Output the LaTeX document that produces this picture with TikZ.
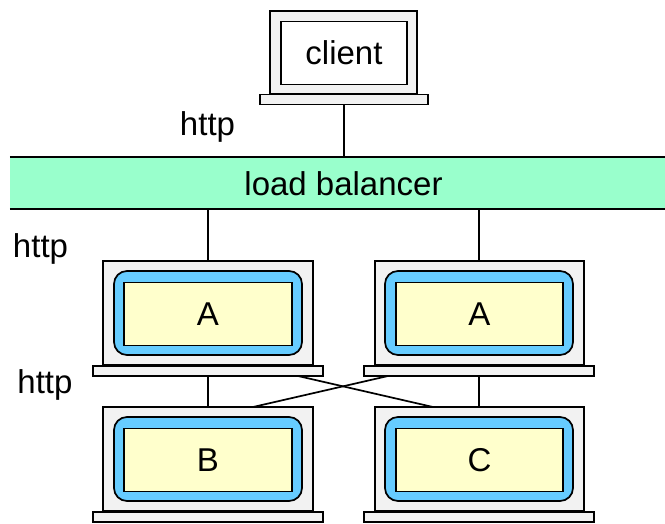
\documentclass[tikz,border=0pt]{standalone}
\usepackage{fontspec}
\setmainfont{Liberation Sans}
\usepackage{xcolor}
\definecolor{bandgreen}{HTML}{99FFCC}
\definecolor{shellblue}{HTML}{66CCFF}
\definecolor{appyellow}{HTML}{FFFFCC}
\definecolor{boxgray}{HTML}{F2F2F2}

\begin{document}
\begin{tikzpicture}[x=1pt,y=-1pt]
        \tikzset{laptop/.style = {shape=rectangle,draw,line width=1.7pt,fill=boxgray,minimum width=210pt,minimum height=104pt}}
        \tikzset{laptopbase/.style = {shape=rectangle,draw,line width=1.7pt,fill=boxgray,minimum width=230pt,minimum height=10pt}}
        \tikzset{shell/.style = {shape=rectangle,draw,line width=1.7pt,fill=shellblue,rounded corners=13pt,minimum width=188pt,minimum height=84pt}}
        \tikzset{app/.style = {shape=rectangle,draw,line width=1.7pt,fill=appyellow,minimum width=168pt,minimum height=63pt,font=\fontsize{33}{36}\selectfont}}
        \tikzset{proto/.style = {anchor=base,inner sep=0pt,font=\fontsize{33}{36}\selectfont}}
        \tikzset{edge/.style = {line width=1.7pt}}
        \useasboundingbox (0,0) rectangle (665,523);
        % client
        \node[laptop,minimum width=147pt,minimum height=83pt] (clientbody) at (343.5,52.5) {};
        \node[laptopbase,minimum width=168pt] (clientbase) at (344,99.5) {};
        \node[app,fill=white,minimum width=126pt] (client) at (344,53) {client};
        % load balancer
        \node[shape=rectangle,fill=bandgreen,minimum width=655pt,minimum height=52pt] (balancer) at (337.5,183) {};
        \node[inner sep=0pt,font=\fontsize{33}{36}\selectfont] (balancertext) at (343.5,184) {load balancer};
        \draw[edge] (balancer.north west) -- (balancer.north east);
        \draw[edge] (balancer.south west) -- (balancer.south east);
        % first server
        \node[laptop] (laptopa) at (208,313) {};
        \node[laptopbase] (basea) at (208,371) {};
        \node[shell] (shella) at (208,313) {};
        \node[app] (appa) at (208,314) {A};
        % second server
        \node[laptop,minimum width=209pt] (laptopd) at (479.5,313) {};
        \node[laptopbase] (based) at (479,371) {};
        \node[shell] (shelld) at (479,313) {};
        \node[app,minimum width=167pt] (appd) at (479.5,314) {A};
        % backend B
        \node[laptop] (laptopb) at (208,459) {};
        \node[laptopbase] (baseb) at (208,517) {};
        \node[shell] (shellb) at (208,459) {};
        \node[app] (appb) at (208,460) {B};
        % backend C
        \node[laptop,minimum width=209pt] (laptopc) at (479.5,459) {};
        \node[laptopbase] (basec) at (479,517) {};
        \node[shell] (shellc) at (479,459) {};
        \node[app,minimum width=167pt] (appc) at (479.5,460) {C};
        % labels
        \node[proto] (httpa) at (207.5,135) {http};
        \node[proto] (httpb) at (40.5,257) {http};
        \node[proto] (httpc) at (45,393) {http};
        % cross ends
        \coordinate (crossa) at (298,376);
        \coordinate (crossb) at (433,407);
        \coordinate (crossc) at (388,376);
        \coordinate (crossd) at (253,407);
        %edges
        \draw[edge] (clientbase.south) -- (clientbase.south |- balancer.north);
        \draw[edge] (laptopa.north) -- (laptopa.north |- balancer.south);
        \draw[edge] (based.north |- laptopd.north) -- (based.north |- balancer.south);
        \draw[edge] (basea.south) -- (laptopb.north);
        \draw[edge] (based.south) -- (based.south |- laptopc.north);
        \draw[edge] (crossa) -- (crossb);
        \draw[edge] (crossc) -- (crossd);
\end{tikzpicture}
\end{document}
